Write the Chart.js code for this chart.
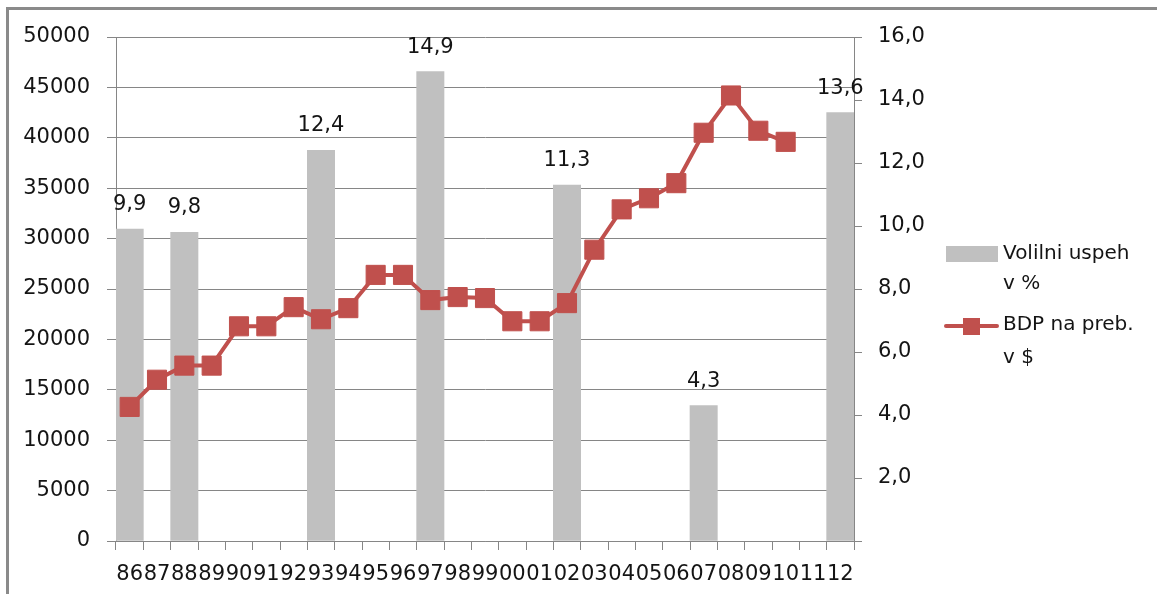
<!DOCTYPE html>
<html lang="sl">
<head>
<meta charset="UTF-8">
<title>Volilni uspeh in BDP</title>
<script src="https://cdn.jsdelivr.net/npm/chart.js@4.4.0/dist/chart.umd.min.js"></script>
<style>
  body { margin: 0; background: #fff; }
  .wrap { position: relative; width: 1157px; height: 594px; overflow: hidden; }
  .frame { position: absolute; left: 6px; top: 7px; width: 1300px; height: 800px;
           border-top: 3px solid #8a8a8a; border-left: 3px solid #8a8a8a; }
  canvas { position: absolute; left: 0; top: 0; }
</style>
</head>
<body>
<div class="wrap">
  <div class="frame"></div>
  <canvas id="graf" width="1157" height="594"></canvas>
</div>
<script>
// leta 1986 - 2012
const leta = ['86','87','88','89','90','91','92','93','94','95','96','97','98','99',
              '00','01','02','03','04','05','06','07','08','09','10','11','12'];
// volilni uspeh v % (samo volilna leta)
const uspeh = [9.9, null, 9.8, null, null, null, null, 12.4, null, null, null, 14.9, null, null,
               null, null, 11.3, null, null, null, null, 4.3, null, null, null, null, 13.6];
// BDP na prebivalca v $
const bdp = [13300, 16000, 17400, 17400, 21300, 21300, 23200, 22000, 23100, 26400, 26400, 23900, 24200, 24100,
             21800, 21800, 23600, 28900, 32900, 34000, 35500, 40500, 44200, 40700, 39600, null, null];

const siva = '#c0c0c0';
const rdeca = '#c0504d';
const crte = '#868686';
const tekst = '#141414';
const pisava = 'DejaVu Sans, sans-serif';

const vejica = v => v.toFixed(1).replace('.', ',');

// napisi nad stolpci
const napisi = {
  id: 'napisi',
  afterDatasetsDraw(chart) {
    const ctx = chart.ctx;
    const meta = chart.getDatasetMeta(0);
    ctx.save();
    ctx.font = '21px ' + pisava;
    ctx.fillStyle = tekst;
    ctx.textAlign = 'center';
    ctx.textBaseline = 'alphabetic';
    meta.data.forEach((bar, i) => {
      if (uspeh[i] == null) return;
      ctx.fillText(vejica(uspeh[i]), bar.x, bar.y - 19);
    });
    ctx.restore();
  }
};

// legenda desno, besedilo v dveh vrsticah
const legenda = {
  id: 'legenda',
  afterDraw(chart) {
    const ctx = chart.ctx;
    const ds = chart.data.datasets;
    ctx.save();
    ctx.font = '20px ' + pisava;
    ctx.textAlign = 'left';
    ctx.textBaseline = 'middle';

    ctx.fillStyle = ds[0].backgroundColor;
    ctx.fillRect(946, 246, 52, 16);
    ctx.fillStyle = tekst;
    ctx.fillText('Volilni uspeh', 1003, 254);
    ctx.fillText('v %', 1003, 284);

    ctx.strokeStyle = ds[1].borderColor;
    ctx.lineWidth = 4;
    ctx.lineCap = 'round';
    ctx.beginPath();
    ctx.moveTo(946, 326);
    ctx.lineTo(997, 326);
    ctx.stroke();
    ctx.fillStyle = ds[1].pointBackgroundColor;
    ctx.fillRect(963, 318, 17, 17);
    ctx.fillStyle = tekst;
    ctx.fillText('BDP na preb.', 1003, 325);
    ctx.fillText('v $', 1003, 358);
    ctx.restore();
  }
};

new Chart(document.getElementById('graf'), {
  type: 'bar',
  data: {
    labels: leta,
    datasets: [
      {
        type: 'bar',
        label: 'Volilni uspeh v %',
        data: uspeh,
        yAxisID: 'y1',
        backgroundColor: siva,
        barPercentage: 1,
        categoryPercentage: 1,
        order: 1
      },
      {
        type: 'line',
        label: 'BDP na preb. v $',
        data: bdp,
        yAxisID: 'y',
        borderColor: rdeca,
        backgroundColor: rdeca,
        pointBackgroundColor: rdeca,
        pointBorderColor: rdeca,
        borderWidth: 4,
        pointStyle: 'rect',
        pointRadius: 13.5,
        pointBorderWidth: 1,
        tension: 0,
        order: 0
      }
    ]
  },
  options: {
    responsive: false,
    animation: false,
    layout: { padding: { left: 0, top: 37, right: 223, bottom: 0 } },
    plugins: {
      legend: { display: false },
      tooltip: { enabled: false }
    },
    scales: {
      x: {
        offset: true,
        grid: { offset: true, drawOnChartArea: false, tickLength: 9, color: crte },
        border: { color: crte },
        ticks: { autoSkip: false, maxRotation: 0, minRotation: 0, padding: 12,
                 color: tekst, font: { family: pisava, size: 21 } },
        afterFit(s) { s.height = 53; }
      },
      y: {
        position: 'left',
        min: 0, max: 50000,
        ticks: { stepSize: 5000, padding: 17, color: tekst,
                 font: { family: pisava, size: 21 },
                 callback: v => String(v) },
        grid: { color: crte, tickLength: 9 },
        border: { color: crte },
        afterFit(s) { s.width = 116; }
      },
      y1: {
        position: 'right',
        min: 0, max: 16,
        ticks: { stepSize: 2, padding: 16, color: tekst,
                 font: { family: pisava, size: 21 },
                 callback: v => v === 0 ? '' : vejica(v) },
        grid: { drawOnChartArea: false, color: crte, tickLength: 8 },
        border: { color: crte },
        afterFit(s) { s.width = 80; }
      }
    }
  },
  plugins: [napisi, legenda]
});
</script>
</body>
</html>
